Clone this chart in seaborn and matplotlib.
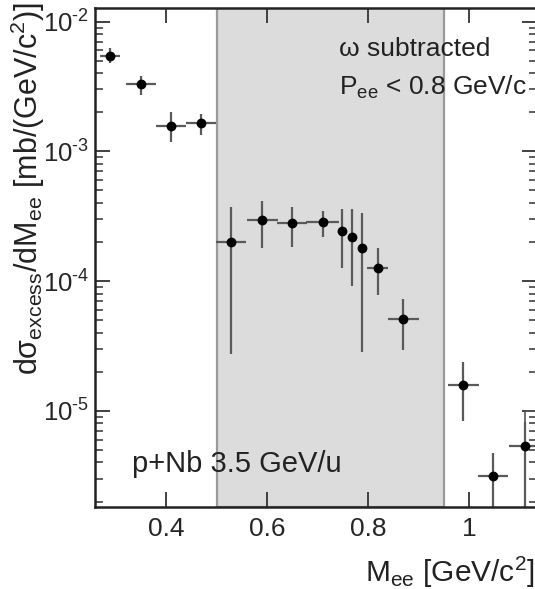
import numpy as np
import pandas as pd
import matplotlib
matplotlib.use("Agg")
import matplotlib.pyplot as plt
import seaborn as sns
from matplotlib.ticker import LogLocator, FixedLocator, FuncFormatter, NullLocator

# ---- data ----
mass = [0.289, 0.350, 0.410, 0.469, 0.529, 0.591, 0.650, 0.710, 0.749, 0.769,
        0.789, 0.819, 0.870, 0.989, 1.048, 1.110]
xsec = [5.44e-3, 3.29e-3, 1.58e-3, 1.65e-3, 2.01e-4, 2.96e-4, 2.79e-4, 2.84e-4,
        2.43e-4, 2.19e-4, 1.79e-4, 1.27e-4, 5.07e-5, 1.58e-5, 3.16e-6, 5.38e-6]
xerr = [0.02, 0.03, 0.03, 0.03, 0.03, 0.03, 0.03, 0.032, 0.0, 0.0,
        0.0, 0.02, 0.03, 0.03, 0.03, 0.03]
y_hi = [6.22e-3, 3.81e-3, 2.00e-3, 1.94e-3, 3.75e-4, 4.15e-4, 3.71e-4, 3.49e-4,
        3.60e-4, 3.60e-4, 3.33e-4, 1.79e-4, 7.24e-5, 2.37e-5, 4.70e-6, 8.26e-6]
y_lo = [4.78e-3, 2.72e-3, 1.19e-3, 1.34e-3, 2.73e-5, 1.79e-4, 1.82e-4, 2.20e-4,
        1.26e-4, 9.16e-5, 2.86e-5, 7.82e-5, 2.94e-5, 8.40e-6, 1.0e-7, 1.0e-7]
band = [0.50, 0.95]
box_x = [1.11, 1.17]
box_level = 1.0e-5
xticks = [0.4, 0.6, 0.8, 1.0]
xticklabels = ["0.4", "0.6", "0.8", "1"]
yticks = [1e-5, 1e-4, 1e-3, 1e-2]

df = pd.DataFrame({"mass": mass, "xsec": xsec})

sns.set_style("ticks")
plt.rcParams["font.family"] = ["Liberation Sans", "DejaVu Sans"]
plt.rcParams["mathtext.fontset"] = "custom"
plt.rcParams["mathtext.rm"] = "Liberation Sans"
plt.rcParams["mathtext.it"] = "Liberation Sans"
plt.rcParams["mathtext.bf"] = "Liberation Sans"
plt.rcParams["mathtext.sf"] = "Liberation Sans"

W, H = 535, 589
fig = plt.figure(figsize=(W / 100, H / 100), dpi=100)
L, R, B, T = 95, 537, 507, 8
ax = fig.add_axes([L / W, (H - B) / H, (R - L) / W, (B - T) / H])

ax.set_yscale("log")
ax.set_xlim(0.2594, 0.4 + (R - 166) / 505)
ax.set_ylim(10 ** -5.741, 10 ** -1.895)

ax.axvspan(band[0], band[1], facecolor="#dcdcdc", edgecolor="#9a9a9a", lw=1.6, zorder=0)

# right-hand box
ax.vlines(box_x[0], 10 ** -5.741, box_level, color="#555555", lw=1.2, zorder=1)
ax.hlines(box_level, box_x[0], box_x[1], color="#555555", lw=1.2, zorder=1)

yerr = np.array([[y - lo for y, lo in zip(xsec, y_lo)],
                 [hi - y for y, hi in zip(xsec, y_hi)]])
ax.errorbar(mass, xsec, xerr=xerr, yerr=yerr, fmt="none", ecolor="#5a5a5a",
            elinewidth=1.6, capsize=0, zorder=2)
sns.scatterplot(data=df, x="mass", y="xsec", ax=ax, color="black", s=50,
                edgecolor="black", linewidth=0, zorder=3, legend=False)


def ylab(v, p):
    e = int(round(np.log10(v)))
    return "$10^{\u2010%d}$" % abs(e)


# ticks
ax.xaxis.set_major_locator(FixedLocator(xticks))
ax.set_xticklabels(xticklabels)
ax.xaxis.set_minor_locator(NullLocator())
ax.yaxis.set_major_locator(FixedLocator(yticks))
ax.yaxis.set_minor_locator(LogLocator(base=10, subs=np.arange(2, 10), numticks=20))
ax.yaxis.set_major_formatter(FuncFormatter(ylab))
ax.yaxis.set_minor_formatter(FuncFormatter(lambda v, p: ""))
ax.tick_params(axis="both", which="major", direction="in", length=11, width=1.3,
               top=True, right=True, labelsize=19, color="#333333", pad=7)
ax.tick_params(axis="y", which="minor", direction="in", length=6, width=1.1,
               right=True, left=True, color="#333333")
ax.tick_params(axis="y", which="major", pad=4, labelsize=18.5)

for s in ["left", "bottom", "top"]:
    ax.spines[s].set_linewidth(1.8)
    ax.spines[s].set_color("#222222")
ax.spines["right"].set_visible(False)

ax.set_xlabel("")
ax.set_ylabel("")
fig.text(535 / W, 1 - 572 / H, r"M$_{\rm ee}$ [GeV/c$^{2}$]", ha="right", va="center",
         fontsize=21.5, color="#222222")
fig.text(28 / W, 1 - 2 / H, r"d$\sigma_{\rm excess}$/dM$_{\rm ee}$ [mb/(GeV/c$^{2}$)]",
         rotation=90, ha="center", va="top", fontsize=22, color="#222222")

ax.text(0.551, 0.904, "ω subtracted", transform=ax.transAxes, fontsize=19,
        ha="left", va="baseline", color="#222222")
ax.text(0.551, 0.826, r"P$_{\rm ee}$ < 0.8 GeV/c", transform=ax.transAxes, fontsize=19,
        ha="left", va="baseline", color="#222222")
ax.text(0.084, 0.070, "p+Nb 3.5 GeV/u", transform=ax.transAxes, fontsize=21,
        ha="left", va="baseline", color="#222222")

fig.savefig("out.png", dpi=100)
